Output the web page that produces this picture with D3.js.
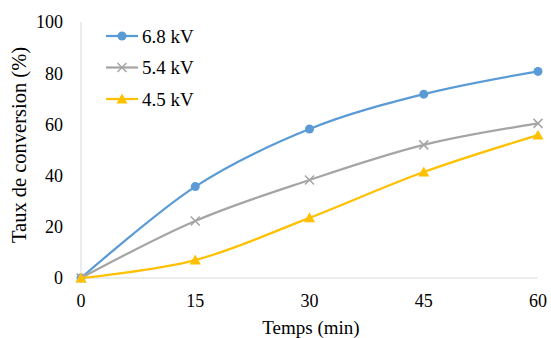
<!DOCTYPE html>
<html><head><meta charset="utf-8">
<script src="https://cdn.jsdelivr.net/npm/d3@7"></script>
<style>body{margin:0;background:#fff}svg{display:block}</style>
</head><body>
<svg id="c" width="551" height="338"></svg>
<script>
const times = [0, 15, 30, 45, 60];
const seriesNames = ["6.8 kV", "5.4 kV", "4.5 kV"];
const v68 = [0, 35.7, 58.2, 71.8, 80.7];
const v54 = [0, 22.3, 38.3, 52.0, 60.4];
const v45 = [0, 7.0, 23.5, 41.4, 55.8];
const yTicks = [0, 20, 40, 60, 80, 100];
const colors = ["#5B9BD5", "#A5A5A5", "#FFC000"];
const markers = ["circle", "cross", "triangle"];
const FONT = "Liberation Serif";

const svg = d3.select("#c");
const x = d3.scaleLinear().domain([0, 60]).range([81, 538]);
const y = d3.scaleLinear().domain([0, 100]).range([278, 22]);

svg.append("line").attr("x1", 81).attr("x2", 538).attr("y1", y(0)).attr("y2", y(0)).attr("stroke", "#D9D9D9").attr("stroke-width", 1);
svg.append("line").attr("x1", 81).attr("x2", 81).attr("y1", y(0)).attr("y2", y(100)).attr("stroke", "#D9D9D9").attr("stroke-width", 1);

svg.selectAll(".yt").data(yTicks).enter().append("text")
  .attr("font-family", FONT)
  .attr("x", 63).attr("y", d => y(d)).attr("dy", "0.35em").attr("text-anchor", "end")
  .attr("font-size", 18).text(d => d);
svg.selectAll(".xt").data(times).enter().append("text")
  .attr("font-family", FONT)
  .attr("x", d => x(d)).attr("y", 301).attr("dy", "0.35em").attr("text-anchor", "middle")
  .attr("font-size", 18).text(d => d);

svg.append("text").attr("font-family", FONT).attr("x", 311).attr("y", 327).attr("dy", "0.35em").attr("text-anchor", "middle")
  .attr("font-size", 19).text("Temps (min)");
svg.append("text").attr("font-family", FONT).attr("transform", "translate(19,145) rotate(-90)").attr("dy", "0.35em")
  .attr("text-anchor", "middle").attr("font-size", 20.5).text("Taux de conversion (%)");

const data = [v68, v54, v45];
const line = d3.line().x((d, i) => x(times[i])).y(d => y(d)).curve(d3.curveCatmullRom.alpha(0));

function drawMarker(g, type, cx, cy, color) {
  if (type === "circle") {
    g.append("circle").attr("cx", cx).attr("cy", cy).attr("r", 4.5).attr("fill", color);
  } else if (type === "cross") {
    const s = 4.5;
    g.append("path").attr("d", `M${cx - s},${cy - s}L${cx + s},${cy + s}M${cx - s},${cy + s}L${cx + s},${cy - s}`)
      .attr("stroke", color).attr("stroke-width", 1.5).attr("fill", "none");
  } else {
    const s = 5.5;
    g.append("path").attr("d", `M${cx},${cy - s}L${cx + s},${cy + s * 0.8}L${cx - s},${cy + s * 0.8}Z`).attr("fill", color);
  }
}

data.forEach((vals, k) => {
  const g = svg.append("g");
  g.append("path").attr("d", line(vals)).attr("fill", "none").attr("stroke", colors[k]).attr("stroke-width", 2.25);
  vals.forEach((v, i) => drawMarker(g, markers[k], x(times[i]), y(v), colors[k]));
});

const legY = [36, 67.5, 99];
seriesNames.forEach((n, k) => {
  const g = svg.append("g");
  g.append("line").attr("x1", 106).attr("x2", 138).attr("y1", legY[k]).attr("y2", legY[k])
    .attr("stroke", colors[k]).attr("stroke-width", 2.25);
  drawMarker(g, markers[k], 122, legY[k], colors[k]);
  g.append("text").attr("font-family", FONT).attr("x", 142).attr("y", legY[k]).attr("dy", "0.35em").attr("font-size", 19).text(n);
});
</script>
</body></html>
